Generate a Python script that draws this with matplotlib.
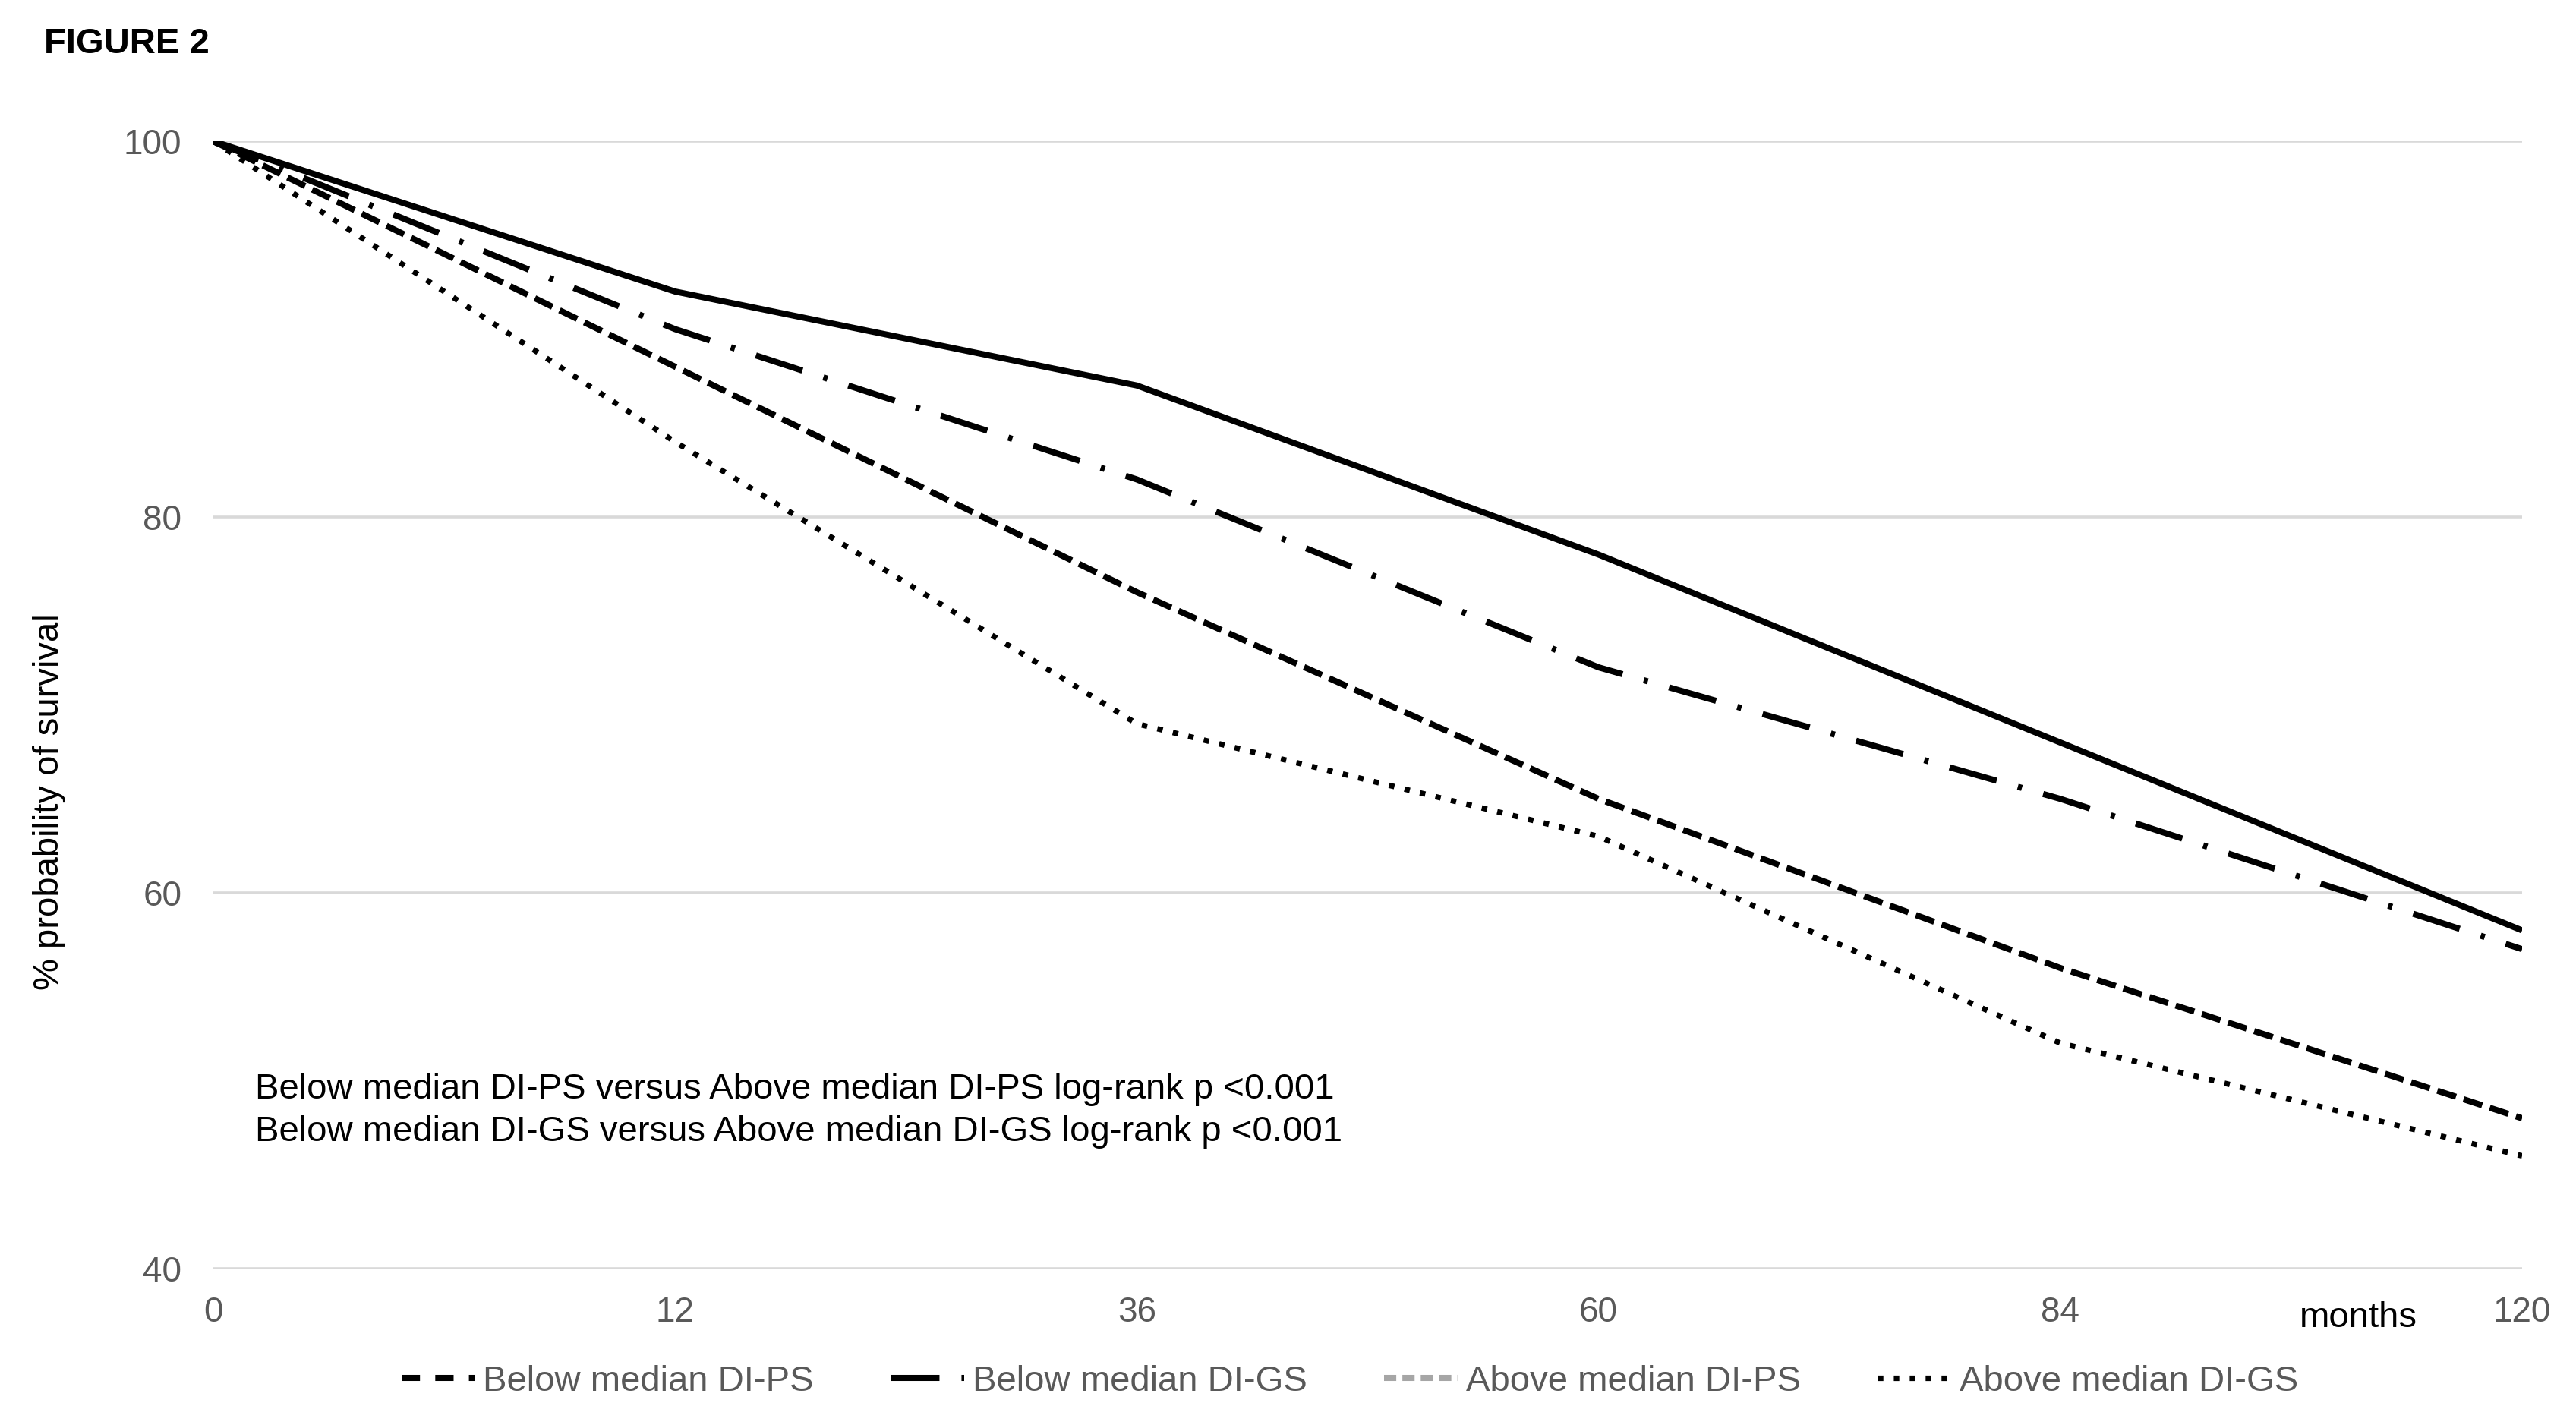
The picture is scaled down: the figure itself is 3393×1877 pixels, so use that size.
import matplotlib.pyplot as plt
from matplotlib.lines import Line2D

"""Данные, снятые с рисунка"""
months = ['0', '12', '36', '60', '84', '120']
solid_line = [100, 92, 87, 78, 68, 58]
dashdot_line = [100, 90, 82, 72, 65, 57]
dashed_line = [100, 88, 76, 65, 56, 48]
dotted_line = [100, 84, 69, 63, 52, 46]

legend_labels = ['Below median DI-PS', 'Below median DI-GS',
                 'Above median DI-PS', 'Above median DI-GS']
note_lines = ['Below median DI-PS versus Above median DI-PS log-rank p <0.001',
              'Below median DI-GS versus Above median DI-GS log-rank p <0.001']

plt.rcParams['font.family'] = ['Liberation Sans', 'DejaVu Sans']

fig = plt.figure(figsize=(16.965, 9.385), dpi=200)
ax = fig.add_axes([281 / 3393, 1 - 1671 / 1877, (3322 - 281) / 3393, (1671 - 186) / 1877])

x = list(range(len(months)))

"""Линии выживаемости"""
ax.plot(x, solid_line, color='black', lw=2.9, solid_capstyle='butt')
ax.plot(x, dashdot_line, color='black', lw=2.9, linestyle=(0, (8, 3.6, 0.7, 3.6)))
ax.plot(x, dashed_line, color='black', lw=2.9, linestyle=(0, (3.2, 1.3)))
ax.plot(x, dotted_line, color='black', lw=2.6, linestyle=(0, (1, 1.9)))

"""Оси и сетка"""
ax.set_xlim(0, len(months) - 1)
ax.set_ylim(40, 100)
ax.set_xticks(x)
ax.set_xticklabels(months)
ax.set_yticks([40, 60, 80, 100])
ax.grid(axis='y', color='#d9d9d9', lw=1.3)
ax.set_axisbelow(True)
for s in ax.spines.values():
    s.set_visible(False)
ax.tick_params(length=0, labelsize=16.5, colors='#595959')
ax.tick_params(axis='x', pad=13)
ax.tick_params(axis='y', pad=15)

fig.text(65 / 3393, 1 - 1056 / 1877, '% probability of survival', rotation=90,
         ha='center', va='center', fontsize=17, color='black')
ax.text(0.929, -0.044, 'months', transform=ax.transAxes, ha='center', va='center',
        fontsize=17, color='black')

"""Подпись с p-значениями"""
ax.text(0.018, 0.159, note_lines[0], transform=ax.transAxes, fontsize=17, va='center')
ax.text(0.018, 0.121, note_lines[1], transform=ax.transAxes, fontsize=17, va='center')

fig.text(58 / 3393, 1 - 58 / 1877, 'FIGURE 2', fontsize=17, fontweight='bold', va='center')

"""Легенда внизу"""
handles = [
    Line2D([], [], color='black', lw=2.9, linestyle=(0, (3, 2.5))),
    Line2D([], [], color='black', lw=2.9, linestyle=(0, (8, 3.6, 0.7, 3.6))),
    Line2D([], [], color='#a6a6a6', lw=2.9, linestyle=(0, (2, 1))),
    Line2D([], [], color='black', lw=2.6, linestyle=(0, (1, 1.9))),
]
leg = fig.legend(handles, legend_labels, loc='center', bbox_to_anchor=(0.524, 1 - 1820 / 1877),
                 ncol=4, frameon=False, fontsize=17, handlelength=2.05,
                 handletextpad=0.23, columnspacing=2.15)
for t in leg.get_texts():
    t.set_color('#595959')

fig.savefig('out.png', dpi=200, facecolor='white')
